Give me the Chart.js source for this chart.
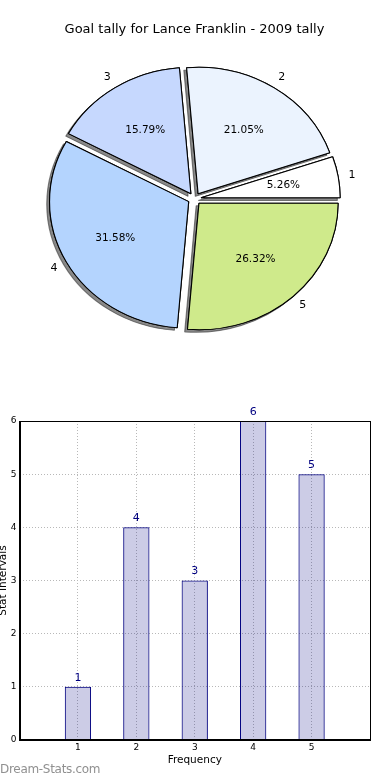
<!DOCTYPE html>
<html>
<head>
<meta charset="utf-8">
<script src="https://cdn.jsdelivr.net/npm/chart.js@4/dist/chart.umd.min.js"></script>
<style>
  html, body { margin: 0; padding: 0; background: #fff; }
  body { width: 390px; height: 780px; position: relative; overflow: hidden; font-family: "DejaVu Sans", sans-serif; }
  #pieWrap { position: absolute; left: 0; top: 0; width: 390px; height: 360px; }
  #barWrap { position: absolute; left: 0; top: 400px; width: 390px; height: 380px; }
  #mark { position: absolute; left: 0; top: 762px; font-size: 12px; color: #909090; letter-spacing: -0.3px; }
</style>
</head>
<body>
<div id="pieWrap"><canvas id="pie"></canvas></div>
<div id="barWrap"><canvas id="bar"></canvas></div>
<div id="mark">Dream-Stats.com</div>
<script>
const categories = ['1', '2', '3', '4', '5'];
const goals = [1, 4, 3, 6, 5];
const sliceColors = ['#ffffff', '#ebf3fe', '#c6d8fe', '#b4d4fe', '#cfea8b'];
const barPositions = [1, 2, 3, 4, 5];
const xTicks = [1, 2, 3, 4, 5];

const FONT = '"DejaVu Sans", sans-serif';
const STRETCH = 1.1;   // matplotlib pie drawn without equal aspect
const EXPLODE = 6;
const total = goals.reduce((a, b) => a + b, 0);

// matplotlib runs counter-clockwise from 3 o'clock; Chart.js runs clockwise,
// so feed the slices in reverse and start at 90 degrees.
const order = goals.map((_, i) => goals.length - 1 - i);

const pieDraw = {
  id: 'pieDraw',
  beforeDatasetsDraw(chart) {
    const ctx = chart.ctx;
    const arcs = chart.getDatasetMeta(0).data;
    const cx = arcs[0].x, cy = arcs[0].y;
    ctx.save();
    ctx.translate(cx, cy);
    ctx.scale(STRETCH, 1);
    ctx.translate(-cx, -cy);
    [true, false].forEach(shadow => {
      arcs.forEach(arc => {
        const mid = (arc.startAngle + arc.endAngle) / 2;
        ctx.save();
        ctx.translate(Math.cos(mid) * EXPLODE, Math.sin(mid) * EXPLODE);
        if (shadow) {
          ctx.shadowColor = 'rgba(40,40,40,0.55)';
          ctx.shadowOffsetX = -2.8;
          ctx.shadowOffsetY = 2.6;
        }
        arc.draw(ctx);
        ctx.restore();
      });
    });
    ctx.restore();
    return false;
  },
  afterDraw(chart) {
    const ctx = chart.ctx;
    const arcs = chart.getDatasetMeta(0).data;
    ctx.save();
    ctx.fillStyle = '#000';
    ctx.textAlign = 'center';
    ctx.textBaseline = 'middle';
    arcs.forEach((arc, j) => {
      const i = order[j];
      const mid = (arc.startAngle + arc.endAngle) / 2;
      const c = Math.cos(mid), s = Math.sin(mid);
      const r = arc.outerRadius;
      const px = arc.x + STRETCH * c * EXPLODE, py = arc.y + s * EXPLODE;
      ctx.font = '10.5px ' + FONT;
      ctx.fillText((goals[i] / total * 100).toFixed(2) + '%', px + STRETCH * c * r * 0.6, py + s * r * 0.6);
      ctx.font = '11px ' + FONT;
      ctx.fillText(categories[i], px + STRETCH * c * r * 1.1, py + s * r * 1.1);
    });
    ctx.restore();
  }
};

new Chart(document.getElementById('pie'), {
  type: 'pie',
  data: {
    labels: order.map(i => categories[i]),
    datasets: [{
      data: order.map(i => goals[i]),
      backgroundColor: order.map(i => sliceColors[i]),
      borderColor: '#000',
      borderWidth: 1,
    }],
  },
  options: {
    responsive: true,
    maintainAspectRatio: false,
    animation: false,
    events: [],
    rotation: 90,
    radius: 126.5,
    layout: { padding: { right: 1, bottom: 10 } },
    plugins: {
      legend: { display: false },
      tooltip: { enabled: false },
      title: {
        display: true,
        text: 'Goal tally for Lance Franklin - 2009 tally',
        color: '#000',
        font: { family: FONT, size: 13, weight: 'normal' },
        padding: { top: 22, bottom: 10 },
      },
    },
  },
  plugins: [pieDraw],
});

const frameAndValues = {
  id: 'frameAndValues',
  afterDatasetsDraw(chart) {
    const ctx = chart.ctx;
    const a = chart.chartArea;
    ctx.save();
    ctx.strokeStyle = '#000';
    ctx.lineWidth = 1;
    ctx.strokeRect(Math.round(a.left) + 0.5, Math.round(a.top) + 0.5,
      Math.round(a.right - a.left) - 1, Math.round(a.bottom - a.top) - 1);
    ctx.fillStyle = '#000080';
    ctx.font = '11px ' + FONT;
    ctx.textAlign = 'center';
    ctx.textBaseline = 'middle';
    chart.getDatasetMeta(0).data.forEach((bar, i) => {
      ctx.fillText(String(goals[i]), bar.x, bar.y - 9);
    });
    ctx.restore();
  }
};

new Chart(document.getElementById('bar'), {
  type: 'bar',
  data: {
    datasets: [{
      data: barPositions.map((x, i) => ({ x, y: goals[i] })),
      backgroundColor: 'rgba(0,0,128,0.2)',
      borderColor: '#000080',
      borderWidth: 1,
      barPercentage: 0.45,
      categoryPercentage: 1,
    }],
  },
  options: {
    responsive: true,
    maintainAspectRatio: false,
    animation: false,
    events: [],
    layout: { padding: { top: 21, right: 20, left: 0, bottom: 0 } },
    plugins: { legend: { display: false }, tooltip: { enabled: false } },
    scales: {
      x: {
        type: 'linear',
        min: 0,
        max: 6,
        offset: false,
        afterFit: s => { s.height = 40; },
        afterBuildTicks: s => { s.ticks = [0, ...xTicks, 6].map(v => ({ value: v })); },
        ticks: {
          padding: 2,
          color: '#000',
          font: { family: FONT, size: 9 },
          callback: v => (xTicks.includes(v) ? String(v) : ''),
        },
        grid: { offset: false, color: '#b8b8b8', lineWidth: 1, drawTicks: false, tickLength: 0 },
        border: { color: '#000', width: 1, dash: [1, 2] },
        title: {
          display: true,
          text: 'Frequency',
          color: '#000',
          font: { family: FONT, size: 10.5 },
          padding: { top: 0, bottom: 13.7 },
        },
      },
      y: {
        min: 0,
        max: 6,
        afterFit: s => { s.width = 19.5; },
        ticks: {
          stepSize: 1,
          padding: 3,
          color: '#000',
          font: { family: FONT, size: 9 },
        },
        grid: { color: '#b8b8b8', lineWidth: 1, drawTicks: false, tickLength: 0 },
        border: { color: '#000', width: 1, dash: [1, 2] },
        title: {
          display: true,
          text: 'Stat Intervals',
          color: '#000',
          font: { family: FONT, size: 10.5 },
          padding: { top: -3.3, bottom: 0 },
        },
      },
    },
  },
  plugins: [frameAndValues],
});
</script>
</body>
</html>
